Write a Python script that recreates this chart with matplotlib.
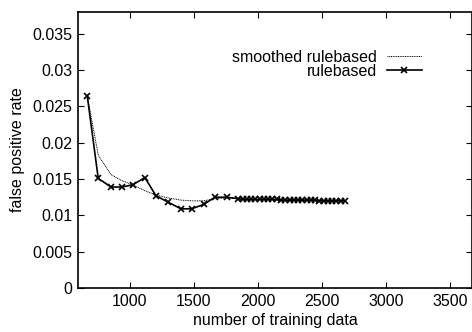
import matplotlib
matplotlib.use("Agg")
import matplotlib.pyplot as plt
from matplotlib.ticker import FormatStrFormatter

# --- data ---
train_sizes = [666, 752, 852, 935, 1020, 1117, 1203, 1300, 1398, 1482, 1575,
               1664, 1755, 1846, 1880, 1913, 1947, 1980, 2013, 2047, 2080,
               2113, 2147, 2180, 2213, 2247, 2280, 2313, 2347, 2380, 2413,
               2447, 2480, 2513, 2547, 2580, 2613, 2647, 2680]
rulebased = [0.0265, 0.0151, 0.0139, 0.0139, 0.0142, 0.0152, 0.0127, 0.0118,
             0.0109, 0.0109, 0.0115, 0.0125, 0.0125, 0.0123, 0.0122, 0.0122,
             0.0122, 0.0122, 0.0122, 0.0122, 0.0122, 0.0122, 0.0122, 0.0121,
             0.0121, 0.0121, 0.0121, 0.0121, 0.0121, 0.0121, 0.0121, 0.0121,
             0.0120, 0.0120, 0.0120, 0.0120, 0.0120, 0.0120, 0.0120]
smoothed = [0.0265, 0.0183, 0.0156, 0.0148, 0.0142, 0.0134, 0.0128, 0.0124,
            0.0121, 0.0120, 0.0120, 0.0123, 0.0124, 0.0123, 0.0122, 0.0122,
            0.0122, 0.0122, 0.0122, 0.0122, 0.0122, 0.0122, 0.0122, 0.0121,
            0.0121, 0.0121, 0.0121, 0.0121, 0.0121, 0.0121, 0.0121, 0.0121,
            0.0120, 0.0120, 0.0120, 0.0120, 0.0120, 0.0120, 0.0120]
x_ticks = [1000, 1500, 2000, 2500, 3000, 3500]
y_ticks = [0, 0.005, 0.01, 0.015, 0.02, 0.025, 0.03, 0.035]

plt.rcParams['font.family'] = ['Liberation Sans', 'DejaVu Sans']
plt.rcParams['font.size'] = 11.5

fig = plt.figure(figsize=(4.72, 3.32), dpi=100)
ax = fig.add_axes([78 / 472, 44 / 332, 394 / 472, 276 / 332])

ax.plot(train_sizes, smoothed, color='black', lw=0.7, ls=(0, (1, 0.8)),
        label='smoothed rulebased')
ax.plot(train_sizes, rulebased, color='black', lw=1.2, marker='x', ms=5,
        mew=1.2, label='rulebased')

ax.set_xlim(594, 3672)
ax.set_ylim(0, 0.038)
ax.set_xticks(x_ticks)
ax.set_yticks(y_ticks)
ax.yaxis.set_major_formatter(FormatStrFormatter('%g'))
ax.tick_params(direction='in', top=True, right=True, length=4, width=0.8,
               pad=4)
for s in ax.spines.values():
    s.set_linewidth(1.2)

ax.set_xlabel('number of training data', labelpad=3.5)
ax.set_ylabel('false positive rate', labelpad=5)

ax.legend(loc='upper right', bbox_to_anchor=(0.893, 0.893), markerfirst=False,
          frameon=False, handlelength=2.2, handletextpad=0.6,
          labelspacing=-0.05, borderpad=0, fontsize=11.5)

fig.savefig('out.png', dpi=100)
